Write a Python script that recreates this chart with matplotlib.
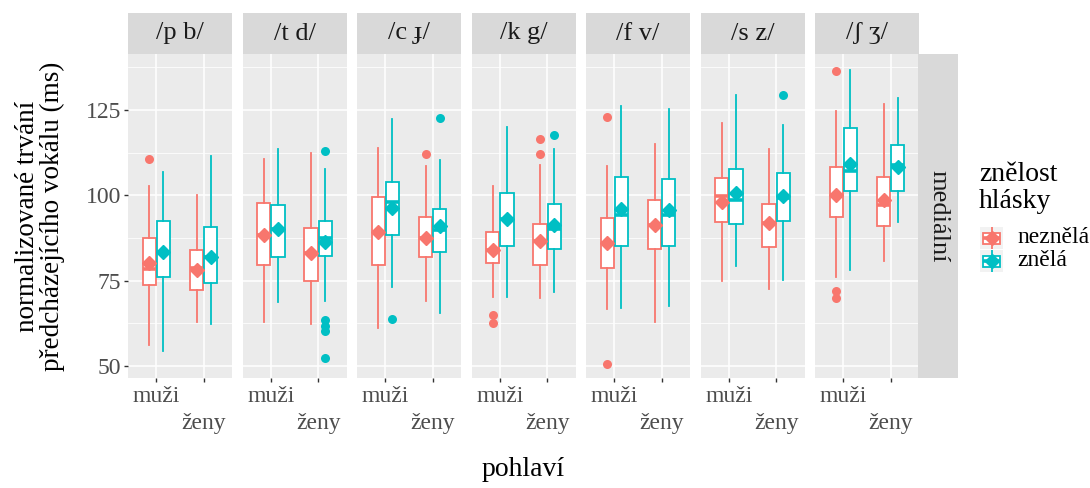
import matplotlib
matplotlib.use("Agg")
import matplotlib.pyplot as plt
from matplotlib.patches import Rectangle

plt.rcParams['font.family'] = ['Liberation Serif', 'DejaVu Serif']

# facets and groups
phonemes = ["/p b/", "/t d/", "/c ɟ/", "/k g/", "/f v/", "/s z/", "/ʃ ʒ/"]
genders = ["muži", "ženy"]
voicing = ["neznělá", "znělá"]
row_label = "mediální"

# per facet: [muži-neznělá, muži-znělá, ženy-neznělá, ženy-znělá]
whislo = [[56.2, 54.4, 63.0, 62.3], [62.8, 68.6, 62.2, 68.9], [61.0, 73.0, 68.9, 65.4],
          [70.1, 70.3, 69.8, 71.8], [66.7, 67.1, 63.0, 67.6], [74.9, 79.3, 72.5, 75.2],
          [76.2, 78.0, 80.7, 92.1]]
q1 = [[73.8, 76.2, 72.3, 74.4], [79.6, 81.9, 75.0, 82.1], [79.6, 88.3, 81.9, 83.5],
      [80.3, 85.2, 79.6, 84.4], [78.6, 85.3, 84.2, 85.3], [92.1, 91.7, 85.0, 92.4],
      [93.8, 101.3, 91.1, 101.4]]
med = [[78.5, 83.3, 78.6, 81.9], [88.4, 90.1, 83.0, 87.6], [89.4, 98.2, 87.6, 89.9],
       [84.0, 93.1, 86.5, 90.1], [86.0, 94.3, 91.4, 94.1], [99.9, 98.7, 92.0, 99.2],
       [100.2, 107.0, 97.2, 109.0]]
q3 = [[87.4, 92.5, 84.0, 90.7], [97.8, 97.2, 90.4, 92.6], [99.4, 104.0, 93.6, 96.1],
      [89.4, 100.8, 91.6, 97.4], [93.5, 105.5, 98.5, 104.9], [105.1, 107.8, 97.5, 106.5],
      [108.4, 119.7, 105.5, 114.7]]
whishi = [[102.6, 106.9, 100.2, 111.6], [110.8, 113.6, 112.5, 107.7], [114.0, 122.4, 108.5, 110.4],
          [102.8, 119.9, 109.0, 113.6], [108.7, 126.1, 115.0, 125.3], [121.2, 129.3, 113.7, 120.7],
          [124.6, 136.8, 126.7, 128.5]]
means = [[80.1, 83.5, 78.2, 81.9], [88.4, 90.1, 83.0, 86.2], [89.4, 96.2, 87.6, 90.9],
         [84.0, 93.1, 86.5, 91.4], [86.0, 96.0, 91.4, 95.8], [98.2, 100.8, 92.0, 99.7],
         [100.2, 109.2, 98.5, 108.3]]
outliers = [[[110.6], [], [], []],
            [[], [], [], [113.1, 63.5, 61.7, 60.1, 52.4]],
            [[], [63.7], [112.1], [122.8]],
            [[65.0, 62.7], [], [116.5, 112.0], [117.7]],
            [[123.0, 50.6], [], [], []],
            [[], [], [], [129.3]],
            [[136.6, 72.1, 69.8], [], [], []]]

colors = ["#F8766D", "#00BFC4"]
W, H = 1090, 488
fig = plt.figure(figsize=(W / 100, H / 100), dpi=100)

px_left = [128 + i * 114.5 for i in range(7)]
pw = 104
p_top, p_bot, s_top = 54, 378, 13

def fx(x):
    return x / W

def fy(y):
    return 1 - y / H

for i, ph in enumerate(phonemes):
    ax = fig.add_axes([fx(px_left[i]), fy(p_bot), pw / W, (p_bot - p_top) / H])
    ax.set_facecolor("#EBEBEB")
    for s in ax.spines.values():
        s.set_visible(False)
    ax.set_xlim(0.4, 2.6)
    ax.set_ylim(46.45, 141.45)
    ax.set_yticks([50, 75, 100, 125])
    ax.set_yticks([62.5, 87.5, 112.5, 137.5], minor=True)
    ax.grid(True, which="major", color="white", lw=1.1)
    ax.grid(True, which="minor", axis="y", color="white", lw=0.55)
    ax.set_axisbelow(True)
    ax.tick_params(which="minor", length=0)
    ax.tick_params(which="major", length=3, width=1, color="#333333",
                   labelcolor="#4D4D4D", labelsize=17, pad=2)
    if i == 0:
        ax.set_yticklabels(["50", "75", "100", "125"])
    else:
        ax.tick_params(axis="y", length=0, labelleft=False)

    for k in range(4):
        g, v = divmod(k, 2)
        pos = (g + 1) + (-0.15 if v == 0 else 0.15)
        st = dict(med=med[i][k], q1=q1[i][k], q3=q3[i][k], whislo=whislo[i][k],
                  whishi=whishi[i][k], mean=means[i][k], fliers=outliers[i][k])
        c = colors[v]
        ax.bxp([st], positions=[pos], widths=0.28, showmeans=True, showcaps=False,
               patch_artist=True,
               boxprops=dict(facecolor="white", edgecolor=c, lw=1.3),
               whiskerprops=dict(color=c, lw=1.3),
               medianprops=dict(color=c, lw=2.6, solid_capstyle="butt"),
               meanprops=dict(marker="D", markerfacecolor=c, markeredgecolor=c, markersize=7),
               flierprops=dict(marker="o", markerfacecolor=c, markeredgecolor="none", markersize=6.5))
    ax.set_xticks([1, 2])
    ax.set_xticklabels([genders[0], "\n" + genders[1]], va="top", linespacing=1.35)
    ax.tick_params(axis="x", pad=3)

    sax = fig.add_axes([fx(px_left[i]), fy(p_top), pw / W, (p_top - s_top) / H])
    sax.set_facecolor("#D9D9D9")
    sax.set_xticks([])
    sax.set_yticks([])
    for s in sax.spines.values():
        s.set_visible(False)
    sax.text(0.5, 0.5, ph, ha="center", va="center", fontsize=19, color="#1A1A1A",
             transform=sax.transAxes)

# right strip
rax = fig.add_axes([fx(918), fy(p_bot), 40 / W, (p_bot - p_top) / H])
rax.set_facecolor("#D9D9D9")
rax.set_xticks([])
rax.set_yticks([])
for s in rax.spines.values():
    s.set_visible(False)
rax.text(0.5, 0.5, row_label, ha="center", va="center", rotation=-90, fontsize=19,
         color="#1A1A1A", transform=rax.transAxes)

# axis titles
fig.text(fx(523), fy(469), "pohlaví", ha="center", va="center", fontsize=20)
fig.text(fx(40), fy(216), "normalizované trvání\npředcházejícího vokálu (ms)", ha="center",
         va="center", rotation=90, fontsize=19.5, linespacing=1.0)

# legend
fig.text(fx(979), fy(188), "znělost\nhlásky", ha="left", va="center", fontsize=20,
         linespacing=1.1)
for v, lab in enumerate(voicing):
    top = 227 + v * 23
    kax = fig.add_axes([fx(980), fy(top + 22), 23 / W, 22 / H])
    kax.set_xlim(0, 1)
    kax.set_ylim(0, 1)
    kax.axis("off")
    kax.add_patch(Rectangle((0, 0), 1, 1, facecolor="#F2F2F2", edgecolor="none"))
    kax.vlines(0.5, 0, 1, color=colors[v], lw=1.3)
    kax.add_patch(Rectangle((0.12, 0.25), 0.76, 0.5, facecolor="white", edgecolor=colors[v], lw=1.3))
    kax.hlines(0.5, 0.12, 0.88, color=colors[v], lw=2.6)
    kax.plot([0.5], [0.5], marker="D", color=colors[v], markersize=7)
    fig.text(fx(1017), fy(top + 11), lab, ha="left", va="center", fontsize=17)

fig.savefig("out.png", dpi=100)
